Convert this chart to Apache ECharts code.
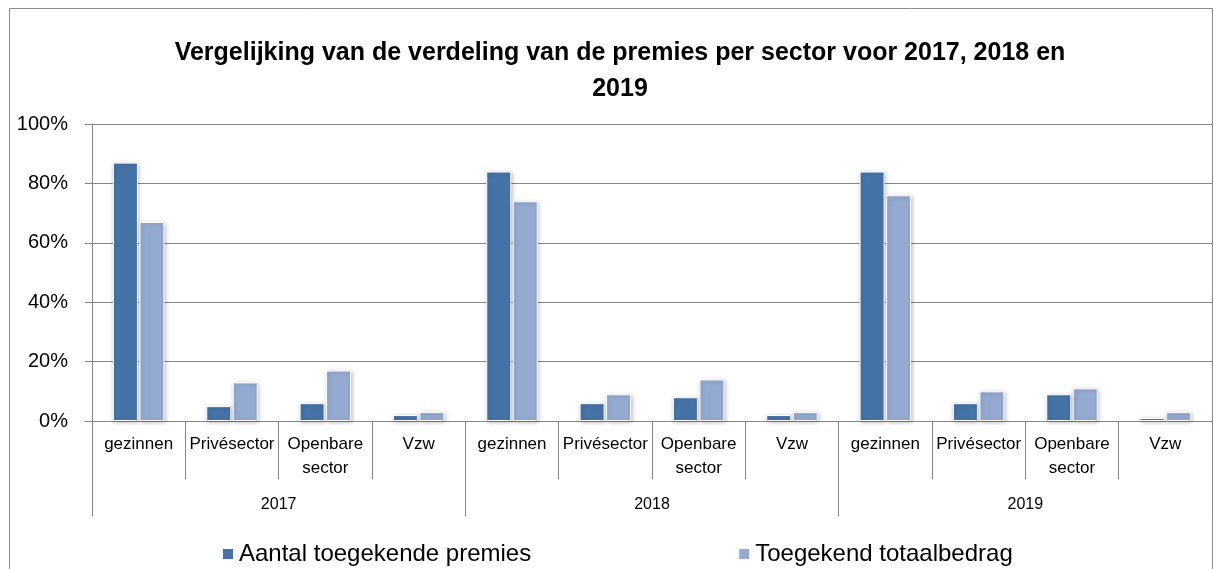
<!DOCTYPE html>
<html>
<head>
<meta charset="utf-8">
<script src="https://cdn.jsdelivr.net/npm/echarts@6/dist/echarts.min.js"></script>
<style>
html,body{margin:0;padding:0;background:#fff;}
#container{width:1214px;height:569px;}
</style>
</head>
<body>
<div id="container"></div>
<script>
// data
var sectors = ['gezinnen','Privésector','Openbare\nsector','Vzw'];
var years = ['2017','2018','2019'];
var aantal = [87,5,6,2, 84,6,8,2, 84,6,9,1];
var bedrag = [67,13,17,3, 74,9,14,3, 76,10,11,3];
var yTicks = [0,20,40,60,80,100];

var cats = [];
for(var i=0;i<years.length;i++){
	for(var j=0;j<sectors.length;j++){ cats.push(sectors[j]); }
}

var fnt = 'Liberation Sans';
var lineCol = '#868686';

var myChart = echarts.init(document.getElementById('container'));
var option = {
	backgroundColor: '#fff',
	color: ['#4673a7','#95aad1'],
	animation: false,
	title: {
		text: 'Vergelijking van de verdeling van de premies per sector voor 2017, 2018 en\n2019',
		left: 615,
		top: 30,
		textAlign: 'center',
		textStyle: {fontFamily: fnt, fontSize: 25, fontWeight: 'bold', color: '#000', lineHeight: 36}
	},
	legend: {
		top: 537,
		left: 216,
		itemWidth: 12,
		itemHeight: 12,
		itemGap: 206,
		icon: 'rect',
		textStyle: {fontFamily: fnt, fontSize: 24, color: '#000'},
		data: ['Aantal toegekende premies','Toegekend totaalbedrag']
	},
	graphic: [{
		type: 'rect',
		shape: {x: 9.5, y: 8.5, width: 1203, height: 600},
		style: {fill: 'none', stroke: '#8c8c8c', lineWidth: 1},
		silent: true
	}],
	grid: {left: 92, right: 2, top: 124, bottom: 148},
	xAxis: [{
		type: 'category',
		data: cats,
		axisLine: {show: true, lineStyle: {color: lineCol}},
		axisTick: {show: true, length: 58, lineStyle: {color: lineCol}},
		axisLabel: {interval: 0, fontFamily: fnt, fontSize: 17, color: '#000', lineHeight: 24, margin: 11, verticalAlign: 'top'}
	},{
		type: 'category',
		data: years,
		position: 'bottom',
		axisLine: {show: false},
		axisTick: {show: true, length: 95, lineStyle: {color: lineCol}},
		axisLabel: {fontFamily: fnt, fontSize: 16, color: '#000', margin: 76}
	}],
	yAxis: [{
		type: 'value',
		min: 0,
		max: 100,
		interval: 20,
		axisLine: {show: true, lineStyle: {color: lineCol}},
		axisTick: {show: true, length: 7, lineStyle: {color: lineCol}},
		splitLine: {lineStyle: {color: lineCol, width: 1}},
		axisLabel: {
			fontFamily: fnt, fontSize: 20, color: '#000', margin: 24,
			formatter: function(v){ return yTicks.indexOf(v) > -1 ? v + '%' : ''; }
		}
	}],
	series: [{
		name: 'Aantal toegekende premies',
		type: 'bar',
		data: aantal,
		barWidth: 25,
		barGap: '6%',
		itemStyle: {borderColor: '#fff', borderWidth: 1, shadowColor: 'rgba(0,0,0,0.25)', shadowBlur: 4, shadowOffsetX: 1, shadowOffsetY: 1}
	},{
		name: 'Toegekend totaalbedrag',
		type: 'bar',
		data: bedrag,
		barWidth: 25,
		itemStyle: {borderColor: '#fff', borderWidth: 1, shadowColor: 'rgba(0,0,0,0.25)', shadowBlur: 4, shadowOffsetX: 1, shadowOffsetY: 1}
	}]
};
myChart.setOption(option);
</script>
</body>
</html>
